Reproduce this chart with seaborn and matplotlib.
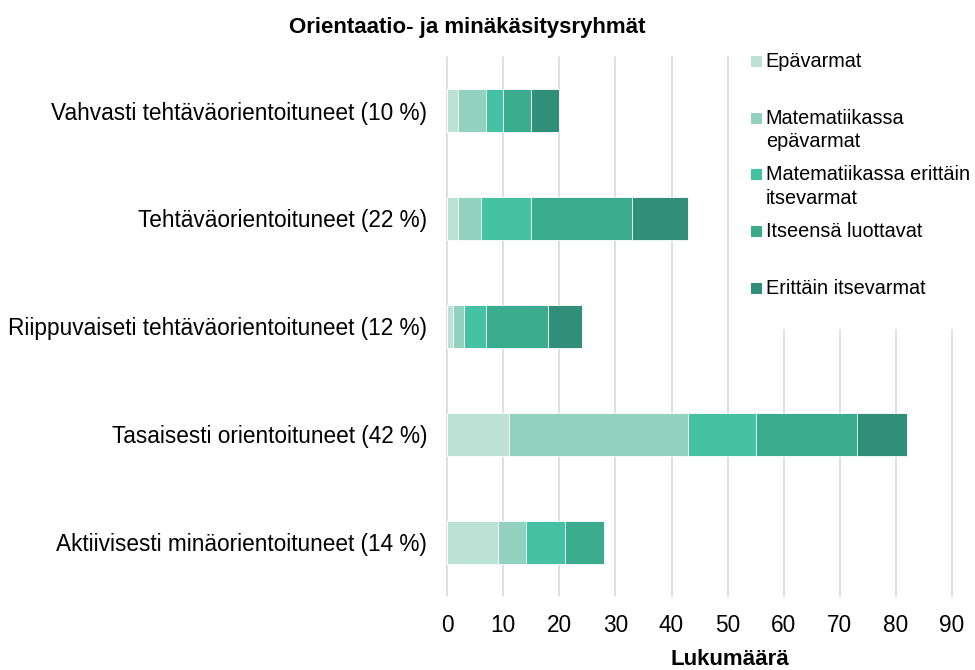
import numpy as np
import pandas as pd
import seaborn as sns
import matplotlib.pyplot as plt
from matplotlib.patches import Patch, Rectangle
from matplotlib.legend_handler import HandlerPatch

# groups (y axis, top to bottom)
groups = ['Vahvasti tehtäväorientoituneet (10 %)',
          'Tehtäväorientoituneet (22 %)',
          'Riippuvaiseti tehtäväorientoituneet (12 %)',
          'Tasaisesti orientoituneet (42 %)',
          'Aktiivisesti minäorientoituneet (14 %)']

# self-concept segments, counts per group
epavarmat = [2, 2, 1, 11, 9]
mat_epavarmat = [5, 4, 2, 32, 5]
mat_itsevarmat = [3, 9, 4, 12, 7]
luottavat = [5, 18, 11, 18, 7]
erittain = [5, 10, 6, 9, 0]

seg_names = ['Epävarmat', 'Matematiikassa\nepävarmat',
             'Matematiikassa erittäin\nitsevarmat', 'Itseensä luottavat',
             'Erittäin itsevarmat']
seg_colors = ['#BCE2D6', '#93D1BF', '#45C2A3', '#3BAB8E', '#318F79']

df = pd.DataFrame({'group': groups,
                   's1': epavarmat, 's2': mat_epavarmat, 's3': mat_itsevarmat,
                   's4': luottavat, 's5': erittain})
segcols = ['s1', 's2', 's3', 's4', 's5']
cum = df[segcols].cumsum(axis=1)

sns.set_style('white')
plt.rcParams['font.family'] = ['Liberation Sans', 'DejaVu Sans']
plt.rcParams['text.color'] = 'black'

fig = plt.figure(figsize=(9.75, 6.7), dpi=100)
ax = fig.add_axes([0.4585, 0.1104, 0.518, 0.805])

# stacked bars: draw the running totals from the longest down
for i in range(4, -1, -1):
    sns.barplot(x=cum[segcols[i]], y=df['group'], order=groups,
                color=seg_colors[i], saturation=1, width=0.4,
                edgecolor='white', linewidth=0.6, orient='h', ax=ax)

ax.set_xlim(0, 90)
ax.set_xticks(np.arange(0, 91, 10))
ax.xaxis.grid(True, color='#D9D9D9', linewidth=1.2)
for gl in ax.get_xgridlines():
    gl.set_clip_on(False)
ax.yaxis.grid(False)
ax.set_axisbelow(True)
sns.despine(ax=ax, left=True, bottom=True)
ax.set_xlabel('')
ax.set_ylabel('')
ax.tick_params(axis='y', length=0, pad=14.4, labelsize=16.3, labelcolor='black')
ax.tick_params(axis='x', length=0, pad=13, labelsize=16.3, labelcolor='black')

fig.text(467 / 975, 1 - 33 / 670, 'Orientaatio- ja minäkäsitysryhmät',
         ha='center', va='baseline', fontsize=16, fontweight='bold')
fig.text(730 / 975, 1 - 665 / 670, 'Lukumäärä',
         ha='center', va='baseline', fontsize=16, fontweight='bold')


# small square sitting at the bottom of a taller handle box
def square(legend, orig_handle, xdescent, ydescent, width, height, fontsize):
    return Rectangle((-xdescent, -ydescent), width, 0.55 * fontsize)


# legend, every entry gets two lines so the slots are even
handles = [Patch(facecolor=c, edgecolor='none') for c in seg_colors]
labels = [n if '\n' in n else n + '\n' for n in seg_names]
leg = fig.legend(handles, labels, loc='upper left',
                 bbox_to_anchor=(745 / 975, 1 - 46 / 670),
                 bbox_transform=fig.transFigure, borderaxespad=0,
                 borderpad=0.3, handlelength=0.55, handleheight=0.78,
                 handletextpad=0.2, labelspacing=0.7, fontsize=14.3,
                 frameon=True, fancybox=False, framealpha=1,
                 facecolor='white', edgecolor='white',
                 handler_map={Patch: HandlerPatch(patch_func=square)})
for t in leg.get_texts():
    t.set_linespacing(1.32)
    t.set_color('black')
# put the marker next to the first line of each label
for col in leg._legend_handle_box.get_children():
    for item in col.get_children():
        item.align = 'top'

fig.savefig('out.png', dpi=100)
